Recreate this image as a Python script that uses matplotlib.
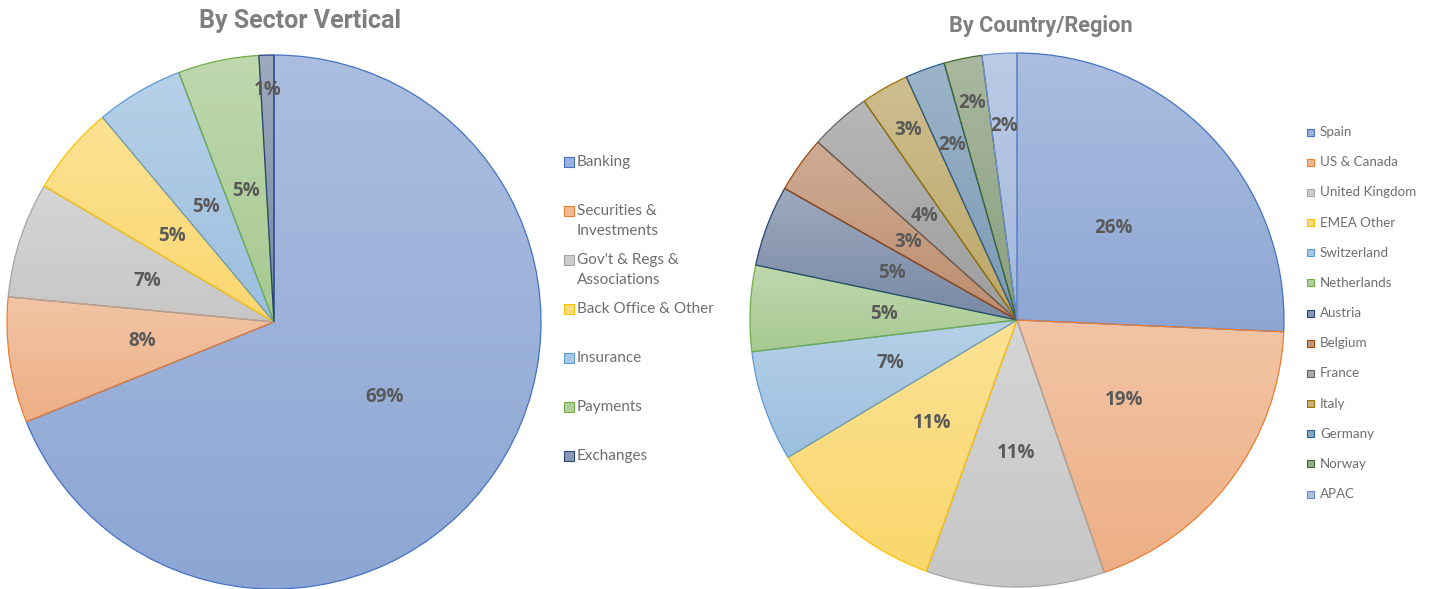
import numpy as np
import matplotlib
matplotlib.use("Agg")
import matplotlib.pyplot as plt
from matplotlib.colors import to_rgb
from matplotlib.patches import Rectangle

# ---- data -------------------------------------------------------------
sector_labels = ["Banking", "Securities &\nInvestments", "Gov't & Regs &\nAssociations",
                 "Back Office & Other", "Insurance", "Payments", "Exchanges"]
sector_values = [68.9, 7.6, 7.0, 5.4, 5.3, 4.9, 0.9]
sector_colors = ["#4472C4", "#ED7D31", "#A5A5A5", "#FFC000", "#5B9BD5", "#70AD47", "#264478"]

region_labels = ["Spain", "US & Canada", "United Kingdom", "EMEA Other", "Switzerland",
                 "Netherlands", "Austria", "Belgium", "France", "Italy", "Germany",
                 "Norway", "APAC"]
region_values = [25.7, 19.0, 10.8, 10.9, 6.7, 5.2, 4.9, 3.4, 3.7, 2.9, 2.4, 2.3, 2.1]
region_colors = ["#4472C4", "#ED7D31", "#A5A5A5", "#FFC000", "#5B9BD5", "#70AD47",
                 "#264478", "#9E480E", "#636363", "#997300", "#255E91", "#43682B", "#698ED0"]

# ---- figure -----------------------------------------------------------
W, H = 1430, 589
fig = plt.figure(figsize=(W / 100, H / 100), dpi=100)
fig.patch.set_facecolor("white")

LABEL_COLOR = "#595959"
LEGEND_COLOR = "#6E6E6E"
TITLE_COLOR = "#7F7F7F"


def tint(c, t, desat=0.0):
    rgb = np.array(to_rgb(c))
    rgb = rgb + (1 - rgb) * t
    lum = rgb @ np.array([0.299, 0.587, 0.114])
    return rgb * (1 - desat) + lum * desat


def draw_pie(cx, cy, r, values, colors, label_dist, fontsize):
    ax = fig.add_axes([(cx - r) / W, (H - cy - r) / H, 2 * r / W, 2 * r / H])
    wedges, _, autotexts = ax.pie(
        values, colors=colors, startangle=90, counterclock=False, radius=1,
        autopct="%.0f%%", pctdistance=0.5,
        wedgeprops=dict(linewidth=0.9),
        textprops=dict(color=LABEL_COLOR, fontsize=fontsize, fontweight="bold",
                       family="Open Sans"))
    grad = np.linspace(0, 1, 256)[:, None, None]
    for w, c in zip(wedges, colors):
        w.set_facecolor("none")
        w.set_edgecolor(c)
        w.set_zorder(2)
        ext = w.get_path().get_extents()
        top, bot = tint(c, 0.54, 0.12), tint(c, 0.37, 0.12)
        img = bot[None, None, :] * (1 - grad) + top[None, None, :] * grad
        img = np.repeat(img, 2, axis=1)
        im = ax.imshow(img, extent=[ext.x0, ext.x1, ext.y0, ext.y1], origin="lower",
                       aspect="auto", zorder=1, interpolation="bilinear")
        im.set_clip_path(w)
    for w, t, d in zip(wedges, autotexts, label_dist):
        mid = np.deg2rad((w.theta1 + w.theta2) / 2)
        t.set_position((d * np.cos(mid), d * np.sin(mid)))
        t.set_zorder(3)
    ax.set_xlim(-1, 1)
    ax.set_ylim(-1, 1)
    ax.set_aspect("equal")
    ax.axis("off")
    return ax


def draw_legend(x_box, x_text, y0, step, labels, colors, box, fontsize, line_gap):
    for i, (lab, c) in enumerate(zip(labels, colors)):
        y = y0 + i * step
        fig.patches.append(Rectangle(((x_box) / W, (H - y - box / 2) / H), box / W, box / H,
                                     transform=fig.transFigure, facecolor=tint(c, 0.45, 0.1),
                                     edgecolor=c, linewidth=0.8))
        for k, line in enumerate(lab.split("\n")):
            fig.text(x_text / W, (H - y - k * line_gap) / H, line, ha="left", va="center",
                     color=LEGEND_COLOR, fontsize=fontsize, family="Lato")


sector_dist = [0.5, 0.5, 0.5, 0.5, 0.5, 0.5, 0.87]
region_dist = [0.5, 0.5, 0.5, 0.5, 0.5, 0.5, 0.5, 0.5, 0.52, 0.82, 0.70, 0.83, 0.73]

draw_pie(274, 322, 267, sector_values, sector_colors, sector_dist, 13.5)
draw_pie(1017, 320, 267, region_values, region_colors, region_dist, 13.5)

draw_legend(564, 577, 161.7, 49.05, sector_labels, sector_colors, 10, 11, 20.5)
draw_legend(1307, 1320, 132, 30.17, region_labels, region_colors, 7, 9.6, 0)

fig.text(300 / W, (H - 21) / H, "By Sector Vertical", ha="center", va="center",
         color=TITLE_COLOR, fontsize=18, fontweight="bold", family="Roboto")
fig.text(1041 / W, (H - 26) / H, "By Country/Region", ha="center", va="center",
         color=TITLE_COLOR, fontsize=15.7, fontweight="bold", family="Roboto")

fig.savefig("out.png", dpi=100, facecolor="white")
